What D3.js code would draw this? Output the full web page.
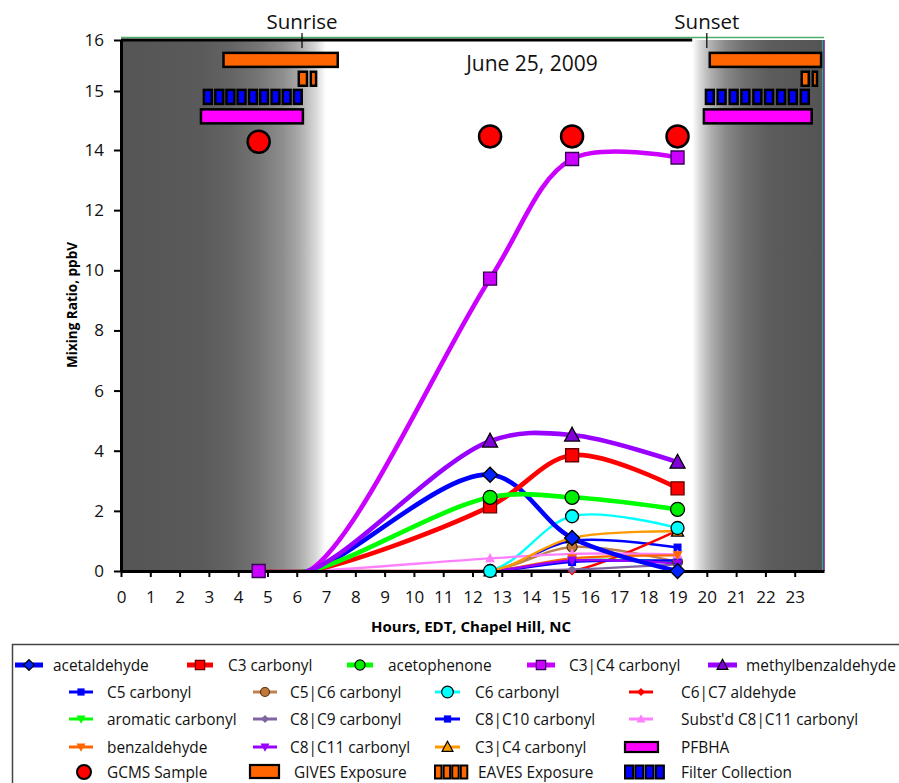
<!DOCTYPE html>
<html>
<head>
<meta charset="utf-8">
<script src="https://cdn.jsdelivr.net/npm/d3@7"></script>
<style>
  body { margin: 0; background: #fff; }
  svg { display: block; font-family: 'Open Sans', sans-serif; }
</style>
</head>
<body>
<svg id="chart" width="899" height="783"></svg>
<script>
// ---- data ---------------------------------------------------------------
const sampleHours = [12.6, 15.4, 19.0];      // daytime sampling times, EDT
const predawnHour = 4.7;                      // pre-dawn sample: nothing above zero
const sunriseHour = 6.4;                      // compounds start from zero at sunrise
const predawnMarked = [3];                    // series whose pre-dawn sample is plotted

const seriesNames = [
  'acetaldehyde', 'C3 carbonyl', 'acetophenone', 'C3|C4 carbonyl', 'methylbenzaldehyde',
  'C5 carbonyl', 'C5|C6 carbonyl', 'C6 carbonyl', 'C6|C7 aldehyde',
  'aromatic carbonyl', 'C8|C9 carbonyl', 'C8|C10 carbonyl', "Subst'd C8|C11 carbonyl",
  'benzaldehyde', 'C8|C11 carbonyl', 'C3|C4 carbonyl'
];
// mixing ratio (ppbV) at 12.6, 15.4, 19.0 h
const seriesValues = [
  [3.2, 1.1, 0.0],
  [2.15, 3.85, 2.75],
  [2.45, 2.45, 2.05],
  [9.72, 13.7, 13.75],
  [4.32, 4.52, 3.62],
  [0, 1.0, 0.78],
  [0, 0.8, 0.3],
  [0, 1.82, 1.43],
  [0, 0, 1.35],
  [0, 0.35, 0.3],
  [0, 0.05, 0.22],
  [0, 0.3, 0.35],
  [0.42, 0.57, 0.55],
  [0, 0.42, 0.52],
  [0, 0.35, 0.25],
  [0, 1.1, 1.32]
];

const yTickValues = [0, 2, 4, 6, 8, 10, 12, 14, 15, 16];
const xTickValues = d3.range(0, 24);

// sampling schedule annotations (hours EDT, level on the y axis)
const givesExposure = [[3.5, 7.4], [20.1, 23.9]];
const givesLevel = 15.61;
const eavesExposure = [[6.07, 6.35], [6.48, 6.66], [23.24, 23.48], [23.62, 23.76]];
const eavesLevel = 15.24;
const filterStarts = [2.83, 3.22, 3.60, 3.98, 4.37, 4.75, 5.14, 5.52, 5.90,
                      19.97, 20.37, 20.78, 21.18, 21.59, 21.99, 22.40, 22.80, 23.21];
const filterDuration = 0.27;
const filterLevel = 14.9;
const pfbhaPeriods = [[2.73, 6.21], [19.9, 23.58]];
const pfbhaLevel = 14.57;
const gcmsHours = [4.7, 12.6, 15.4, 19.0];
const gcmsLevels = [14.14, 14.23, 14.23, 14.23];

const darkness = [[0, 7.0], [19.5, 24]];      // night shading (before sunrise, after sunset)
const sunMarks = [['Sunrise', 6.18], ['Sunset', 20.0]];
const dateLabel = 'June 25, 2009';

// ---- styles -------------------------------------------------------------
const lineColors = ['#0000ff', '#ff0000', '#00ff00', '#cc00ff', '#9900ff',
  '#0000ff', '#c0804d', '#00ffff', '#ff0000', '#00ff00', '#8064a2', '#0000ff',
  '#ff80ff', '#ff6600', '#9900ff', '#ff9900'];
const markerFills = ['#0022ff', '#ff0000', '#00ee00', '#cc00ff', '#8000d8',
  '#0000ff', '#c07838', '#00ffff', '#ff0000', '#00ff00', '#8064a2', '#0000ff',
  '#ff80ff', '#ff6600', '#9900ff', '#ff9900'];
const markerStrokes = ['#000', '#600', '#000', '#330055', '#000',
  'none', '#553311', '#000', 'none', 'none', 'none', 'none',
  'none', 'none', 'none', '#000'];
const markerShapes = ['diamond', 'square', 'circle', 'square', 'triangle',
  'square', 'circle', 'circle', 'diamond', 'triangleDown', 'diamond', 'square',
  'triangle', 'triangleDown', 'triangleDown', 'triangle'];
const markerSizes = [15, 13, 14, 13, 15, 8, 10, 13, 9, 10, 9, 8, 10, 10, 10, 12];
const heavySeries = 5;                         // first five series are drawn thick
const markerOrder = [5, 6, 8, 9, 10, 11, 12, 13, 14, 15, 7, 0, 1, 2, 3, 4];

// ---- scales -------------------------------------------------------------
const plot = { left: 121, right: 824, top: 40, bottom: 571 };
const x = d3.scaleLinear().domain([0, 24]).range([plot.left, plot.right]);
const y = d3.scaleLinear().domain([0, 14, 15, 16]).range([plot.bottom, 150, 91, plot.top]);

const svg = d3.select('#chart');
const defs = svg.append('defs');

defs.append('clipPath').attr('id', 'plotClip')
  .append('rect')
  .attr('x', plot.left).attr('y', plot.top)
  .attr('width', plot.right - plot.left).attr('height', plot.bottom - plot.top);

// night gradients
const gLeft = defs.append('linearGradient').attr('id', 'nightL')
  .attr('x1', '0%').attr('x2', '100%').attr('y1', '0%').attr('y2', '0%');
[[0, '#555555'], [0.38, '#5a5a5a'], [0.53, '#636363'], [0.67, '#757575'],
 [0.79, '#8e8e8e'], [0.87, '#aaaaaa'], [0.95, '#d8d8d8'], [1, '#ffffff']]
  .forEach(([o, c]) => gLeft.append('stop').attr('offset', o).attr('stop-color', c));
const gRight = defs.append('linearGradient').attr('id', 'nightR')
  .attr('x1', '0%').attr('x2', '100%').attr('y1', '0%').attr('y2', '0%');
[[0, '#ffffff'], [0.06, '#d8d8d8'], [0.14, '#b0b0b0'], [0.25, '#8a8a8a'],
 [0.4, '#6e6e6e'], [0.59, '#5c5c5c'], [1, '#545454']]
  .forEach(([o, c]) => gRight.append('stop').attr('offset', o).attr('stop-color', c));

// ---- night shading ------------------------------------------------------
svg.append('g').selectAll('rect').data(darkness).join('rect')
  .attr('x', d => x(d[0])).attr('width', d => x(d[1]) - x(d[0]))
  .attr('y', plot.top).attr('height', plot.bottom - plot.top)
  .attr('fill', (d, i) => i === 0 ? 'url(#nightL)' : 'url(#nightR)');

// frame extras: thin green rule on top, thin right edge
svg.append('line').attr('x1', plot.left).attr('x2', plot.right)
  .attr('y1', plot.top - 2.5).attr('y2', plot.top - 2.5)
  .attr('stroke', '#4caf6a').attr('stroke-width', 1.3);
svg.append('line').attr('x1', plot.right - 1.5).attr('x2', plot.right - 1.5)
  .attr('y1', plot.top).attr('y2', plot.bottom)
  .attr('stroke', '#2aa8a8').attr('stroke-width', 1);
svg.append('line').attr('x1', plot.right + 0.5).attr('x2', plot.right + 0.5)
  .attr('y1', plot.top).attr('y2', plot.bottom)
  .attr('stroke', '#b040b0').attr('stroke-width', 1);
// top border (black) over the daylight part
svg.append('line').attr('x1', plot.left).attr('x2', x(darkness[1][0]))
  .attr('y1', plot.top).attr('y2', plot.top)
  .attr('stroke', '#000').attr('stroke-width', 3);

// ---- marker helper -------------------------------------------------------
function markerPath(shape, s) {
  const p = d3.path();
  const h = s / 2;
  if (shape === 'square') { p.rect(-h, -h, s, s); }
  else if (shape === 'circle') { p.moveTo(h, 0); p.arc(0, 0, h, 0, 2 * Math.PI); }
  else if (shape === 'diamond') { p.moveTo(0, -h); p.lineTo(h, 0); p.lineTo(0, h); p.lineTo(-h, 0); p.closePath(); }
  else if (shape === 'triangle') { p.moveTo(0, -h * 1.05); p.lineTo(h, h * 0.8); p.lineTo(-h, h * 0.8); p.closePath(); }
  else if (shape === 'triangleDown') { p.moveTo(0, h * 1.05); p.lineTo(h, -h * 0.8); p.lineTo(-h, -h * 0.8); p.closePath(); }
  return p.toString();
}

// ---- series lines -------------------------------------------------------
const seriesPoints = seriesValues.map(vals =>
  [[predawnHour, 0], [sunriseHour, 0]].concat(sampleHours.map((h, j) => [h, vals[j]])));

const line = d3.line()
  .x(d => x(d[0])).y(d => y(d[1]))
  .curve(d3.curveCatmullRom.alpha(0.5));

const lineOrder = d3.range(heavySeries, seriesNames.length).concat(d3.range(0, heavySeries));
const lines = svg.append('g').attr('clip-path', 'url(#plotClip)');
lineOrder.forEach(i => {
  lines.append('path')
    .attr('d', line(seriesPoints[i]))
    .attr('fill', 'none')
    .attr('stroke', lineColors[i])
    .attr('stroke-width', i < heavySeries ? 4.6 : 2.4)
    .attr('stroke-linejoin', 'round');
});

// ---- axes ---------------------------------------------------------------
const yAxis = svg.append('g').attr('transform', `translate(${plot.left},0)`)
  .call(d3.axisLeft(y).tickValues(yTickValues).tickSize(7).tickSizeOuter(0).tickPadding(10));
const xAxis = svg.append('g').attr('transform', `translate(0,${plot.bottom})`)
  .call(d3.axisBottom(x).tickValues(xTickValues).tickSize(6).tickSizeOuter(0).tickPadding(14));
[yAxis, xAxis].forEach(a => {
  a.select('.domain').attr('stroke', '#000').attr('stroke-width', 3);
  a.selectAll('.tick line').attr('stroke', '#000').attr('stroke-width', 2);
  a.selectAll('.tick text').attr('fill', '#111')
    .style('font-family', "'Open Sans', sans-serif").style('font-size', '17px');
});

// ---- series markers -----------------------------------------------------
const markers = svg.append('g');
markerOrder.forEach(i => {
  seriesPoints[i].forEach(p => {
    if (p[0] === sunriseHour) return;
    if (p[0] === predawnHour && !predawnMarked.includes(i)) return;
    markers.append('path')
      .attr('transform', `translate(${x(p[0])},${y(p[1])})`)
      .attr('d', markerPath(markerShapes[i], markerSizes[i]))
      .attr('fill', markerFills[i])
      .attr('stroke', markerStrokes[i])
      .attr('stroke-width', markerStrokes[i] === 'none' ? 0 : 1.3);
  });
});

// ---- sampling schedule --------------------------------------------------
const ann = svg.append('g').attr('stroke', '#000').attr('stroke-width', 2.5);
const barH = 14;
ann.selectAll('rect.gives').data(givesExposure).join('rect')
  .attr('x', d => x(d[0])).attr('width', d => x(d[1]) - x(d[0]))
  .attr('y', y(givesLevel) - barH / 2).attr('height', barH)
  .attr('fill', '#ff6600');
ann.selectAll('rect.eaves').data(eavesExposure).join('rect')
  .attr('x', d => x(d[0])).attr('width', d => x(d[1]) - x(d[0]))
  .attr('y', y(eavesLevel) - barH / 2).attr('height', barH)
  .attr('fill', '#ff6600');
ann.selectAll('rect.filter').data(filterStarts).join('rect')
  .attr('x', d => x(d)).attr('width', d => x(d + filterDuration) - x(d))
  .attr('y', y(filterLevel) - barH / 2).attr('height', barH)
  .attr('fill', '#0000ff');
ann.selectAll('rect.pfbha').data(pfbhaPeriods).join('rect')
  .attr('x', d => x(d[0])).attr('width', d => x(d[1]) - x(d[0]))
  .attr('y', y(pfbhaLevel) - barH / 2).attr('height', barH)
  .attr('fill', '#ff00ff');
ann.selectAll('circle.gcms').data(gcmsHours).join('circle')
  .attr('cx', d => x(d)).attr('cy', (d, i) => y(gcmsLevels[i])).attr('r', 11)
  .attr('fill', '#ff0000');

// sunrise / sunset
const sun = svg.append('g');
sunMarks.forEach(([label, h]) => {
  sun.append('line').attr('x1', x(h)).attr('x2', x(h)).attr('y1', 33).attr('y2', 48)
    .attr('stroke', '#000').attr('stroke-width', 1.2);
  sun.append('text').attr('x', x(h)).attr('y', 29).attr('text-anchor', 'middle')
    .style('font-size', '20.5px').attr('fill', '#111').text(label);
});
svg.append('text').attr('x', 532).attr('y', 71).attr('text-anchor', 'middle')
  .style('font-size', '21px').attr('fill', '#111').text(dateLabel);

// axis titles
svg.append('text').attr('transform', 'translate(77,305) rotate(-90)')
  .attr('text-anchor', 'middle').style('font-size', '13.5px').style('font-weight', 700)
  .text('Mixing Ratio, ppbV');
svg.append('text').attr('x', 471).attr('y', 632).attr('text-anchor', 'middle')
  .style('font-size', '15px').style('font-weight', 700)
  .text('Hours, EDT, Chapel Hill, NC');

// ---- legend -------------------------------------------------------------
const lg = svg.append('g');
lg.append('rect').attr('x', 12.5).attr('y', 644.5).attr('width', 900).attr('height', 160)
  .attr('fill', '#fff').attr('stroke', '#444').attr('stroke-width', 1.5);

const legendFont = '15.4px';
const rowY = [665, 692, 719, 747, 772];
const row1 = [[15, 43, 53], [187, 213, 228], [347, 373, 388], [527, 555, 569], [708, 737, 746]];
const cols = [[69, 93, 107], [253, 277, 290], [435, 460, 475], [629, 653, 681]];

function legendText(tx, yy, t) {
  lg.append('text').attr('x', tx).attr('y', yy + 5.5).style('font-size', legendFont)
    .attr('fill', '#111').text(t);
}
function legendSeries(i, x0, x1, tx, yy) {
  lg.append('line').attr('x1', x0).attr('x2', x1).attr('y1', yy).attr('y2', yy)
    .attr('stroke', lineColors[i]).attr('stroke-width', i < heavySeries ? 5 : 3);
  lg.append('path').attr('transform', `translate(${(x0 + x1) / 2},${yy})`)
    .attr('d', markerPath(markerShapes[i], markerSizes[i] * (i < heavySeries ? 0.72 : 0.9)))
    .attr('fill', markerFills[i]).attr('stroke', markerStrokes[i])
    .attr('stroke-width', markerStrokes[i] === 'none' ? 0 : 1.2);
  legendText(tx, yy, seriesNames[i]);
}
row1.forEach((c, k) => legendSeries(k, c[0], c[1], c[2], rowY[0]));
for (let i = heavySeries; i < seriesNames.length; i++) {
  const k = i - heavySeries;
  const r = 1 + Math.floor(k / 4), c = cols[k % 4];
  legendSeries(i, c[0], c[1], c[2], rowY[r]);
}
// PFBHA
lg.append('rect').attr('x', 625).attr('y', rowY[3] - 5).attr('width', 33).attr('height', 10)
  .attr('fill', '#ff00ff').attr('stroke', '#000').attr('stroke-width', 2.2);
legendText(681, rowY[3], 'PFBHA');
// GCMS sample
lg.append('circle').attr('cx', 84).attr('cy', rowY[4]).attr('r', 7)
  .attr('fill', '#ff0000').attr('stroke', '#000').attr('stroke-width', 2);
legendText(107, rowY[4], 'GCMS Sample');
// GIVES exposure
lg.append('rect').attr('x', 250).attr('y', rowY[4] - 7).attr('width', 29).attr('height', 13)
  .attr('fill', '#ff6600').attr('stroke', '#000').attr('stroke-width', 2.2);
legendText(294, rowY[4], 'GIVES Exposure');
// EAVES exposure
d3.range(4).forEach(k => {
  lg.append('rect').attr('x', 435 + k * 8.6).attr('y', rowY[4] - 6.5).attr('width', 6.5).attr('height', 13)
    .attr('fill', '#ff6600').attr('stroke', '#000').attr('stroke-width', 2);
});
legendText(478, rowY[4], 'EAVES Exposure');
// filter collection
d3.range(4).forEach(k => {
  lg.append('rect').attr('x', 625 + k * 10.3).attr('y', rowY[4] - 6.5).attr('width', 8).attr('height', 13)
    .attr('fill', '#0000ff').attr('stroke', '#000').attr('stroke-width', 2);
});
legendText(681, rowY[4], 'Filter Collection');
</script>
</body>
</html>
